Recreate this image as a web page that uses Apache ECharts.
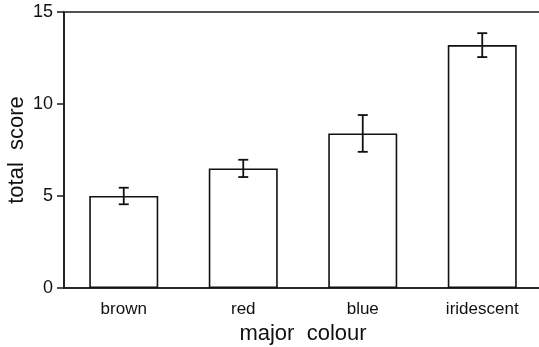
<!DOCTYPE html>
<html>
<head>
<meta charset="utf-8">
<script src="https://cdn.jsdelivr.net/npm/echarts@6/dist/echarts.min.js"></script>
<style>html,body{margin:0;padding:0;background:#fff;}#c{width:539px;height:347px;}</style>
</head>
<body>
<div id="c"></div>
<script>
const categories = ['brown', 'red', 'blue', 'iridescent'];
const means = [5.0, 6.5, 8.4, 13.2];
const errors = [0.45, 0.47, 1.0, 0.65];
const yTicks = [0, 5, 10, 15];

const chart = echarts.init(document.getElementById('c'), null, {renderer: 'canvas'});
const font = 'Liberation Sans, Arial, Helvetica, sans-serif';
const axisColor = '#1a1a1a';
const errData = categories.map((c, i) => [i, means[i] - errors[i], means[i] + errors[i]]);

chart.setOption({
  animation: false,
  backgroundColor: '#fff',
  grid: {left: 64, top: 12, right: -3, bottom: 59, containLabel: false, outerBoundsMode: 'none',
         show: true, borderColor: axisColor, borderWidth: 1.6, backgroundColor: 'transparent'},
  xAxis: {
    type: 'category',
    data: categories,
    name: 'major  colour',
    nameLocation: 'middle',
    nameGap: 35,
    nameMoveOverlap: false,
    nameTextStyle: {fontFamily: font, fontSize: 22, color: '#111'},
    axisLine: {lineStyle: {color: axisColor, width: 1.6}},
    axisTick: {alignWithLabel: true, length: 6, lineStyle: {color: axisColor, width: 1.5}},
    axisLabel: {fontFamily: font, fontSize: 17, color: '#111', margin: 13}
  },
  yAxis: {
    type: 'value',
    min: yTicks[0], max: yTicks[yTicks.length - 1], interval: 5,
    name: 'total  score',
    nameLocation: 'middle',
    nameGap: 36,
    nameMoveOverlap: false,
    nameTextStyle: {fontFamily: font, fontSize: 22, color: '#111'},
    axisLine: {show: true, lineStyle: {color: axisColor, width: 1.6}},
    axisTick: {show: true, length: 7, lineStyle: {color: axisColor, width: 1.5}},
    axisLabel: {fontFamily: font, fontSize: 18, color: '#111', margin: 11},
    splitLine: {show: false}
  },
  series: [
    {
      type: 'bar',
      data: means,
      barWidth: 69,
      itemStyle: {color: '#fff', borderColor: '#111', borderWidth: 1.6},
      z: 2
    },
    {
      type: 'custom',
      data: errData,
      z: 3,
      renderItem: function (params, api) {
        const x = api.value(0);
        const lo = api.coord([x, api.value(1)]);
        const hi = api.coord([x, api.value(2)]);
        const w = 5;
        const st = {stroke: '#111', lineWidth: 1.8};
        return {
          type: 'group',
          children: [
            {type: 'line', shape: {x1: hi[0], y1: hi[1], x2: lo[0], y2: lo[1]}, style: st},
            {type: 'line', shape: {x1: hi[0] - w, y1: hi[1], x2: hi[0] + w, y2: hi[1]}, style: st},
            {type: 'line', shape: {x1: lo[0] - w, y1: lo[1], x2: lo[0] + w, y2: lo[1]}, style: st}
          ]
        };
      }
    }
  ]
});
</script>
</body>
</html>
